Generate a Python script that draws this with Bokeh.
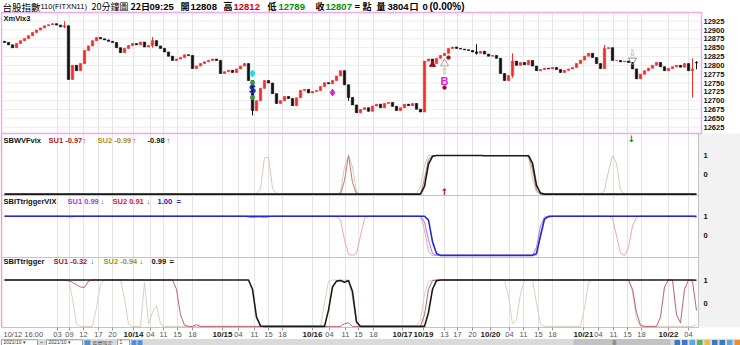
from bokeh.plotting import figure
from bokeh.models import Range1d, ColumnDataSource
from bokeh.embed import file_html
from bokeh.resources import INLINE
from bokeh.core.properties import value

# ------------------------------------------------------------------ data
# 40-minute aggregated candles (index based x axis)
close = [
    12865, 12858, 12850, 12862, 12870, 12876, 12884, 12893, 12900, 12906,
    12912, 12915, 12918, 12914, 12909, 12912, 12760, 12800, 12785, 12805,
    12842, 12855, 12870, 12879, 12875, 12872, 12868, 12865, 12850, 12836,
    12848, 12856, 12862, 12858, 12866, 12852, 12856, 12870, 12855, 12848,
    12838, 12826, 12814, 12818, 12822, 12830, 12828, 12791, 12798, 12805,
    12810, 12814, 12818, 12814, 12777, 12782, 12786, 12780, 12790, 12798,
    12805, 12757, 12672, 12700, 12735, 12757, 12750, 12720, 12692, 12700,
    12712, 12706, 12686, 12708, 12729, 12732, 12722, 12726, 12729, 12740,
    12751, 12748, 12757, 12770, 12785, 12745, 12709, 12688, 12666, 12675,
    12680, 12670, 12685, 12690, 12680, 12692, 12695, 12684, 12672, 12680,
    12690, 12686, 12692, 12676, 12668, 12812, 12818, 12805, 12820, 12828,
    12834, 12848, 12852, 12848, 12846, 12844, 12842, 12838, 12834, 12840,
    12832, 12826, 12828, 12820, 12777, 12757, 12771, 12812, 12800, 12808,
    12802, 12814, 12798, 12785, 12788, 12792, 12790, 12794, 12788, 12780,
    12786, 12790, 12794, 12805, 12815, 12826, 12834, 12822, 12805, 12791,
    12848, 12850, 12814, 12814, 12810, 12812, 12808, 12790, 12762, 12775,
    12785, 12792, 12800, 12808, 12796, 12785, 12791, 12796, 12800, 12795,
    12805, 12785, 12790, 12807,
]
first_open = 12868
last_open, last_high, last_low = 12808, 12812, 12789
wick_idx = [15, 37, 62, 86, 118, 127, 150, 172]
wick_hi = [12925, 12880, 12757, 12745, 12860, 12834, 12858, 12820]
wick_lo = [12905, 12850, 12658, 12700, 12830, 12765, 12790, 12709]

# indicator panel 2: SBWVFvix
vf_main = [-1.0] * 105 + [-0.6, 0.55, 0.96] + [1.0] * 12 + [0.99] * 12 + [0.6, -0.55, -0.95] + [-1.0] * 39
vf_su1 = [-1.0] * 85 + [-0.3, 1.0, -0.4] + [-1.0] * 17 + [-0.2, 0.8, 0.98] + [1.0] * 24 + [0.3, -0.8, -1.0] + [-1.0] * 39
vf_su2 = ([-1.0] * 64 + [-0.7, 0.9, 0.9, -0.7] + [-1.0] * 16 + [-0.9, 0.4, 1.0, 0.4, -0.9] + [-1.0] * 15
          + [-0.6, 0.5, 1.0] + [1.0] * 24 + [0.9, -0.2, -0.9] + [-1.0] * 16
          + [-0.8, 0.2, 1.0, 0.6, -0.8] + [-1.0] * 19)

# indicator panel 3: SBITtriggerVIX
tv_main = [1.0] * 106 + [0.8, -0.3, -0.9] + [-1.0] * 24 + [-0.9, 0.0, 0.85, 0.98] + [1.0] * 37
tv_su1 = ([1.0] * 61 + [0.95, 0.93, 0.95, 0.95, 0.93, 0.96] + [1.0] * 38 + [0.7, -0.2, -0.9]
          + [-1.0] * 25 + [-0.6, 0.5, 0.95] + [1.0] * 37 + [0.99])
tv_su2 = ([1.0] * 16 + [0.95, 0.96] + [1.0] * 66 + [0.8, -0.2, -0.95, -1.0, -0.9, 0.0, 0.9]
          + [1.0] * 14 + [0.3, -0.8] + [-1.0] * 27 + [0.0, 0.9] + [1.0] * 16
          + [0.9, 0.0, -0.9, -1.0, -0.6, 0.5, 0.95] + [1.0] * 14 + [0.91])

# indicator panel 4: SBITtrigger
tg_main = ([1.0] * 62 + [0.6, -0.6, -0.98] + [-1.0] * 16 + [-0.3, 0.7, 0.95, 0.98, 0.9, 0.98, 0.5, -0.8]
           + [-1.0] * 17 + [-0.4, 0.6, 0.97] + [1.0] * 64 + [0.99])
tg_su1 = ([1.0] * 16 + [0.97, 0.9, 0.8, 0.7, 0.68, 0.95] + [1.0] * 21 + [0.6, -0.5, -0.95]
          + [-1.0] * 2 + [-0.93] + [-1.0] * 36 + [-0.88, -0.85] + [-1.0] * 18 + [-0.5, 0.6, 0.97]
          + [1.0] * 49 + [0.6, -0.4, -0.95] + [-1.0] * 4 + [-0.6, 0.7, 1.0] + [1.0]
          + [-0.5, -0.85, 0.6, 1.0, 0.95, -0.32])
tg_su2 = ([1.0] * 17 + [0.2, -0.9] + [-1.0] * 4 + [-0.2, 0.8] + [1.0] * 5 + [0.2, -0.9] + [-1.0] * 3
          + [0.9] + [-0.9] + [-0.4, -0.1, -0.9] + [-1.0] * 40 + [0.0, 0.95] + [1.0] * 5 + [0.2, -0.9]
          + [-1.0] * 15 + [-0.7, 0.4, 0.95] + [1.0] * 19 + [0.3, -0.9, -0.7, 0.4] + [1.0] * 3
          + [0.0, -0.9] + [-1.0] * 10 + [-0.2, 0.9] + [1.0] * 10 + [0.5, -0.7] + [-1.0] * 14 + [-0.94])

# x axis (bar index of each labelled time)
first_label = "10/12 16:00"
tick_idx = [13.25, 16.25, 19.75, 23.5, 27, 32.25, 36.5, 39.75, 43.25, 47,
            54.5, 58.5, 62.5, 66, 69.5, 77, 81.25, 85.25, 88.5, 92.25,
            99.5, 104.75, 110, 113.25, 117, 121.5, 126.25, 129.75, 133.5, 137,
            144.75, 148.5, 152.25, 155.75, 159.25, 166, 171]
tick_labels = ["03", "09", "12", "17", "20", "10/14", "04", "11", "15", "18",
               "10/15", "04", "11", "15", "18", "10/16", "04", "11", "15", "18",
               "10/17", "10/19", "13", "17", "20", "10/20", "04", "11", "15", "18",
               "10/21", "04", "11", "15", "18", "10/22", "04"]
price_ticks = [12625, 12650, 12675, 12700, 12725, 12750, 12775, 12800, 12825, 12850, 12875, 12900, 12925]
ind_ticks = [0, 1]

# signal marks on price panel
sig_S = (62, 12732)
sig_cyan = (62, 12777)
sig_green = ([62, 62], [12751, 12709])
sig_magenta = (82, 12723)
buy_mark = (107, 12802)
buy_dots = ([111, 110], [12822, 12737])
tri_up = (110, 12805)
arrow_up = (110, 12783)
sig_B = (110, 12757)
arrow_down = (157, 12836)
tri_down = (157, 12814)
vf_up_arrow = (110, -0.89)
vf_down_arrow = (156.75, 1.88)

N = len(close)
for arr in (vf_main, vf_su1, vf_su2, tv_main, tv_su1, tv_su2, tg_main, tg_su1, tg_su2):
    assert len(arr) == N, len(arr)
idx = list(range(N))

CJK = "Noto Sans CJK TC"
LS = "Liberation Sans"
W, H = 740, 345


def px2i(px):
    """page pixel x -> bar index coordinate"""
    return (px - 4) / 4.0


# one figure, y in page pixels (top = 0); each panel gets its own value range
p = figure(width=W, height=H, x_range=Range1d(px2i(0), px2i(W)), y_range=Range1d(H, 0),
           output_backend="svg", toolbar_location=None, x_axis_location=None, y_axis_location=None,
           min_border=0)
p.grid.visible = False
p.outline_line_color = None
p.background_fill_color = "white"
p.border_fill_color = "white"


def vrange(zero_px, px_per_unit):
    return Range1d((zero_px - H) / px_per_unit, zero_px / px_per_unit)


PRICE_PX = 0.3533
p.extra_y_ranges = {
    "price": Range1d(12925 - (H - 20.7) / PRICE_PX, 12925 + 20.7 / PRICE_PX),
    "vf": vrange(174.3, 19.3),
    "tv": vrange(235.3, 19.6),
    "tg": vrange(302.7, 23.2),
}

# ---------------- frames, grids
PL, PR = 2, 698
p.quad(left=[px2i(PR)], right=[px2i(W)], top=[133], bottom=[327], fill_color="#f2f2f2", line_color=None)
for top, bot in ((13, 132.5), (134, 326.5)):
    p.segment(x0=tick_idx, x1=tick_idx, y0=[top] * len(tick_idx), y1=[bot] * len(tick_idx),
              line_color="#e4e4e4", line_width=1)
p.segment(x0=[px2i(PL)] * len(price_ticks), x1=[px2i(700)] * len(price_ticks),
          y0=price_ticks, y1=price_ticks, y_range_name="price", line_color="#ececec", line_width=1)
p.segment(x0=[px2i(1)] * 3, x1=[px2i(PR)] * 3, y0=[195, 257, 327], y1=[195, 257, 327],
          line_color="#c4c4c4", line_width=1)
p.segment(x0=[px2i(PR)], x1=[px2i(PR)], y0=[133], y1=[327], line_color="#c4c4c4", line_width=1)
p.segment(x0=[px2i(1)], x1=[px2i(1)], y0=[133], y1=[327], line_color="#f0a0c8", line_width=1.5)
p.quad(left=[px2i(1)], right=[px2i(701)], top=[12], bottom=[133], fill_color=None,
       line_color="#f0a8f0", line_width=1.5)

# ---------------- title bar
t_items = [
    (2, "台股指數", "#000000", "normal", CJK, "9.5px"),
    (40, "110(FITXN11)", "#000000", "normal", LS, "7.5px"),
    (91, "20分鐘圖", "#000000", "normal", CJK, "9px"),
    (130, "22日", "#000000", "bold", CJK, "9px"),
    (149, "09:25", "#000000", "bold", LS, "9.5px"),
    (180, "開", "#000000", "bold", CJK, "9px"),
    (190, "12808", "#000000", "bold", LS, "9.5px"),
    (223, "高", "#000000", "bold", CJK, "9px"),
    (233, "12812", "#e00000", "bold", LS, "9.5px"),
    (267, "低", "#000000", "bold", CJK, "9px"),
    (278, "12789", "#009000", "bold", LS, "9.5px"),
    (315, "收", "#000000", "bold", CJK, "9px"),
    (325, "12807", "#009000", "bold", LS, "9.5px"),
    (354, "=", "#000000", "bold", LS, "9.5px"),
    (362, "點", "#000000", "bold", CJK, "9px"),
    (376, "量", "#000000", "bold", CJK, "9px"),
    (387, "3804", "#000000", "bold", LS, "9.5px"),
    (409, "口", "#000000", "bold", CJK, "9px"),
    (422, "0", "#000000", "bold", LS, "9.5px"),
    (429, "(0.00%)", "#000000", "bold", LS, "10px"),
]
tsrc = ColumnDataSource(dict(x=[px2i(a[0]) for a in t_items], y=[6] * len(t_items),
                             t=[a[1] for a in t_items], c=[a[2] for a in t_items],
                             s=[a[3] for a in t_items], f=[a[4] for a in t_items],
                             z=[a[5] for a in t_items]))
p.text(x="x", y="y", text="t", text_color="c", text_font_style="s", text_font="f",
       text_font_size="z", text_baseline="middle", text_align="left", source=tsrc)

# ---------------- price candles
opens = [first_open] + close[:-1]
opens[-1] = last_open
highs = [max(o, c) for o, c in zip(opens, close)]
lows = [min(o, c) for o, c in zip(opens, close)]
highs[-1], lows[-1] = last_high, last_low
for k, i in enumerate(wick_idx):
    highs[i] = max(highs[i], wick_hi[k])
    lows[i] = min(lows[i], wick_lo[k])
colors = ["#f03030" if c >= o else "#111111" for o, c in zip(opens, close)]
csrc = ColumnDataSource(dict(x=idx, h=highs, l=lows, col=colors,
                             top=[max(o, c) for o, c in zip(opens, close)],
                             bot=[min(o, c) for o, c in zip(opens, close)]))
p.segment(x0="x", y0="l", x1="x", y1="h", line_color="col", line_width=1, source=csrc, y_range_name="price")
p.vbar(x="x", width=0.6, top="top", bottom="bot", fill_color="col", line_color="col",
       line_width=0.6, source=csrc, y_range_name="price")

p.text(x=[px2i(703)] * len(price_ticks), y=price_ticks, text=[str(v) for v in price_ticks],
       y_range_name="price", text_font=value(LS), text_font_style="bold", text_font_size=value("7.5px"),
       text_baseline="middle", text_color="#111111")
p.text(x=[px2i(3)], y=[18], text=["XmVix3"], text_font=value(LS), text_font_style="bold",
       text_font_size=value("7.5px"), text_baseline="middle", text_color="#111111")

# signals
p.scatter([sig_cyan[0]], [sig_cyan[1]], marker="diamond", size=7, color="#20d8f0", y_range_name="price")
p.scatter(sig_green[0], sig_green[1], marker="circle", size=4, color="#3a9a3a", y_range_name="price")
p.text(x=[sig_S[0]], y=[sig_S[1]], text=["S"], text_font=value(LS), text_font_style="bold",
       text_font_size=value("11px"), text_align="center", text_baseline="middle", text_color="#1030d0",
       y_range_name="price")
p.scatter([sig_magenta[0]], [sig_magenta[1]], marker="diamond", size=7, color="#e020e0", y_range_name="price")
p.scatter([buy_mark[0]], [buy_mark[1]], marker="triangle", size=6, color="#a01010", y_range_name="price")
p.scatter(buy_dots[0], buy_dots[1], marker="circle", size=3.5, color="#a01010", y_range_name="price")
p.scatter([tri_up[0]], [tri_up[1]], marker="triangle", size=8, fill_color=None, line_color="#c09a9a",
          y_range_name="price")
p.text(x=[arrow_up[0]], y=[arrow_up[1]], text=["⇧"], text_font=value("DejaVu Sans"),
       text_font_size=value("9px"), text_align="center", text_baseline="middle", text_color="#c8a0a0",
       y_range_name="price")
p.text(x=[sig_B[0]], y=[sig_B[1]], text=["B"], text_font=value(LS), text_font_style="bold",
       text_font_size=value("11px"), text_align="center", text_baseline="middle", text_color="#e020e0",
       y_range_name="price")
p.text(x=[arrow_down[0]], y=[arrow_down[1]], text=["⇩"], text_font=value("DejaVu Sans"),
       text_font_size=value("9px"), text_align="center", text_baseline="middle", text_color="#a0a0a0",
       y_range_name="price")
p.scatter([tri_down[0]], [tri_down[1]], marker="inverted_triangle", size=8, fill_color=None,
          line_color="#909090", y_range_name="price")


# ---------------- indicator panels
def header(items, y_px):
    src = ColumnDataSource(dict(x=[px2i(it[0]) for it in items], y=[y_px] * len(items),
                                t=[it[1] for it in items], c=[it[2] for it in items]))
    p.text(x="x", y="y", text="t", text_color="c", text_font=value(LS), text_font_style="bold",
           text_font_size=value("7.5px"), text_baseline="middle", text_align="left", source=src)


def ind_labels(rname):
    p.text(x=[px2i(703)] * 2, y=ind_ticks, text=[str(v) for v in ind_ticks], y_range_name=rname,
           text_font=value(LS), text_font_style="bold", text_font_size=value("7.5px"),
           text_baseline="middle", text_color="#111111")


# panel 2
p.line(idx, vf_su2, line_color="#d8c8b4", line_width=1, y_range_name="vf")
p.line(idx, vf_su1, line_color="#c07878", line_width=1, y_range_name="vf")
p.line(idx, vf_main, line_color="#1a1a1a", line_width=1.6, y_range_name="vf")
p.text(x=[vf_up_arrow[0]], y=[vf_up_arrow[1]], text=["↑"], text_font=value("DejaVu Sans"),
       text_font_style="bold", text_font_size=value("9px"), text_align="center", text_baseline="middle",
       text_color="#b00000", y_range_name="vf")
p.text(x=[vf_down_arrow[0]], y=[vf_down_arrow[1]], text=["↓"], text_font=value("DejaVu Sans"),
       text_font_style="bold", text_font_size=value("9px"), text_align="center", text_baseline="middle",
       text_color="#208020", y_range_name="vf")
header([(3, "SBWVFvix", "#111111"), (48, "SU1 -0.97", "#b01818"), (82, "↑", "#e00000"),
        (97, "SU2 -0.99", "#a89020"), (132, "↑", "#e00000"), (147, "-0.98", "#111111"),
        (166, "↑", "#e00000")], 140)
ind_labels("vf")

# panel 3
p.line(idx, tv_su2, line_color="#f0a8a8", line_width=1, y_range_name="tv")
p.line(idx, tv_su1, line_color="#b070f0", line_width=1, y_range_name="tv")
p.line(idx, tv_main, line_color="#2828c8", line_width=1.6, y_range_name="tv")
header([(3, "SBITtriggerVIX", "#111111"), (67, "SU1 0.99", "#b030f0"), (100, "↓", "#008000"),
        (112, "SU2 0.91", "#e02020"), (146, "↓", "#008000"), (157, "1.00", "#2020c0"),
        (176, "=", "#2020c0")], 200.5)
ind_labels("tv")

# panel 4
p.line(idx, tg_su2, line_color="#dcd0bc", line_width=1, y_range_name="tg")
p.line(idx, tg_su1, line_color="#c06070", line_width=1, y_range_name="tg")
p.line(idx, tg_main, line_color="#1a1a1a", line_width=1.6, y_range_name="tg")
header([(3, "SBITtrigger", "#111111"), (53, "SU1 -0.32", "#b01818"), (90, "↓", "#008000"),
        (103, "SU2 -0.94", "#a89020"), (139, "↓", "#008000"), (151, "0.99", "#111111"),
        (169, "=", "#111111")], 261)
ind_labels("tg")

# ---------------- x axis
p.segment(x0=tick_idx, x1=tick_idx, y0=[327] * len(tick_idx), y1=[330] * len(tick_idx),
          line_color="#9a9a9a", line_width=1)
bold_flags = ["/" in t for t in tick_labels]
xsrc = ColumnDataSource(dict(x=tick_idx, y=[333.5] * len(tick_idx), t=tick_labels,
                             s=["bold" if b else "normal" for b in bold_flags],
                             c=["#1a1a1a" if b else "#555555" for b in bold_flags],
                             z=["8px" if b else "7.5px" for b in bold_flags]))
p.text(x="x", y="y", text="t", text_font=value(LS), text_font_style="s", text_color="c",
       text_font_size="z", text_align="center", text_baseline="middle", source=xsrc)
p.text(x=[px2i(3)], y=[333.5], text=[first_label], text_font=value(LS), text_color="#555555",
       text_font_size=value("7.5px"), text_align="left", text_baseline="middle")

# ---------------- bottom tool strip
p.quad(left=[px2i(0)], right=[px2i(W)], top=[338.5], bottom=[H], fill_color="#dadada", line_color=None)
p.quad(left=[px2i(v) for v in (1, 46, 117)], right=[px2i(v) for v in (37, 82, 129)],
       top=[339.3] * 3, bottom=[345] * 3, fill_color="white", line_color="#8a8a8a", line_width=0.8)
p.quad(left=[px2i(v) for v in (84, 131, 137)], right=[px2i(v) for v in (90, 136, 142)],
       top=[339.8] * 3, bottom=[344.5] * 3, fill_color="#4f8fd8", line_color=None)
p.quad(left=[px2i(573)], right=[px2i(670)], top=[338.5], bottom=[H], fill_color="#c2c2c2", line_color=None)
p.text(x=[px2i(3), px2i(48)], y=[341.8, 341.8], text=["2021/10 ▾", "2021/10 ▾"], text_font=value(LS),
       text_font_size=value("5px"), text_baseline="middle", text_color="#333333")
p.text(x=[px2i(v) for v in (39.5, 119, 612)], y=[341.8] * 3, text=["~", "1", "|||"],
       text_font=value(LS), text_font_size=value("5px"), text_baseline="middle", text_color="#333333")
p.text(x=[px2i(92)], y=[341.8], text=["區間設定"], text_font=value(CJK), text_font_size=value("5px"),
       text_baseline="middle", text_color="#333333")
icon_x = [674, 681.5, 689, 696.5, 704, 711.5, 719, 726.5, 734]
icon_c = ["#3a78c8", "#3a78c8", "#58a8e8", "#60b060", "#e8c040", "#3a78c8", "#3a78c8", "#58a8e8", "#e89030"]
p.quad(left=[px2i(v) for v in icon_x], right=[px2i(v + 5.5) for v in icon_x], top=[339.5] * 9,
       bottom=[344.5] * 9, fill_color=icon_c, line_color=None)

open("out.html", "w").write(file_html(p, INLINE))
